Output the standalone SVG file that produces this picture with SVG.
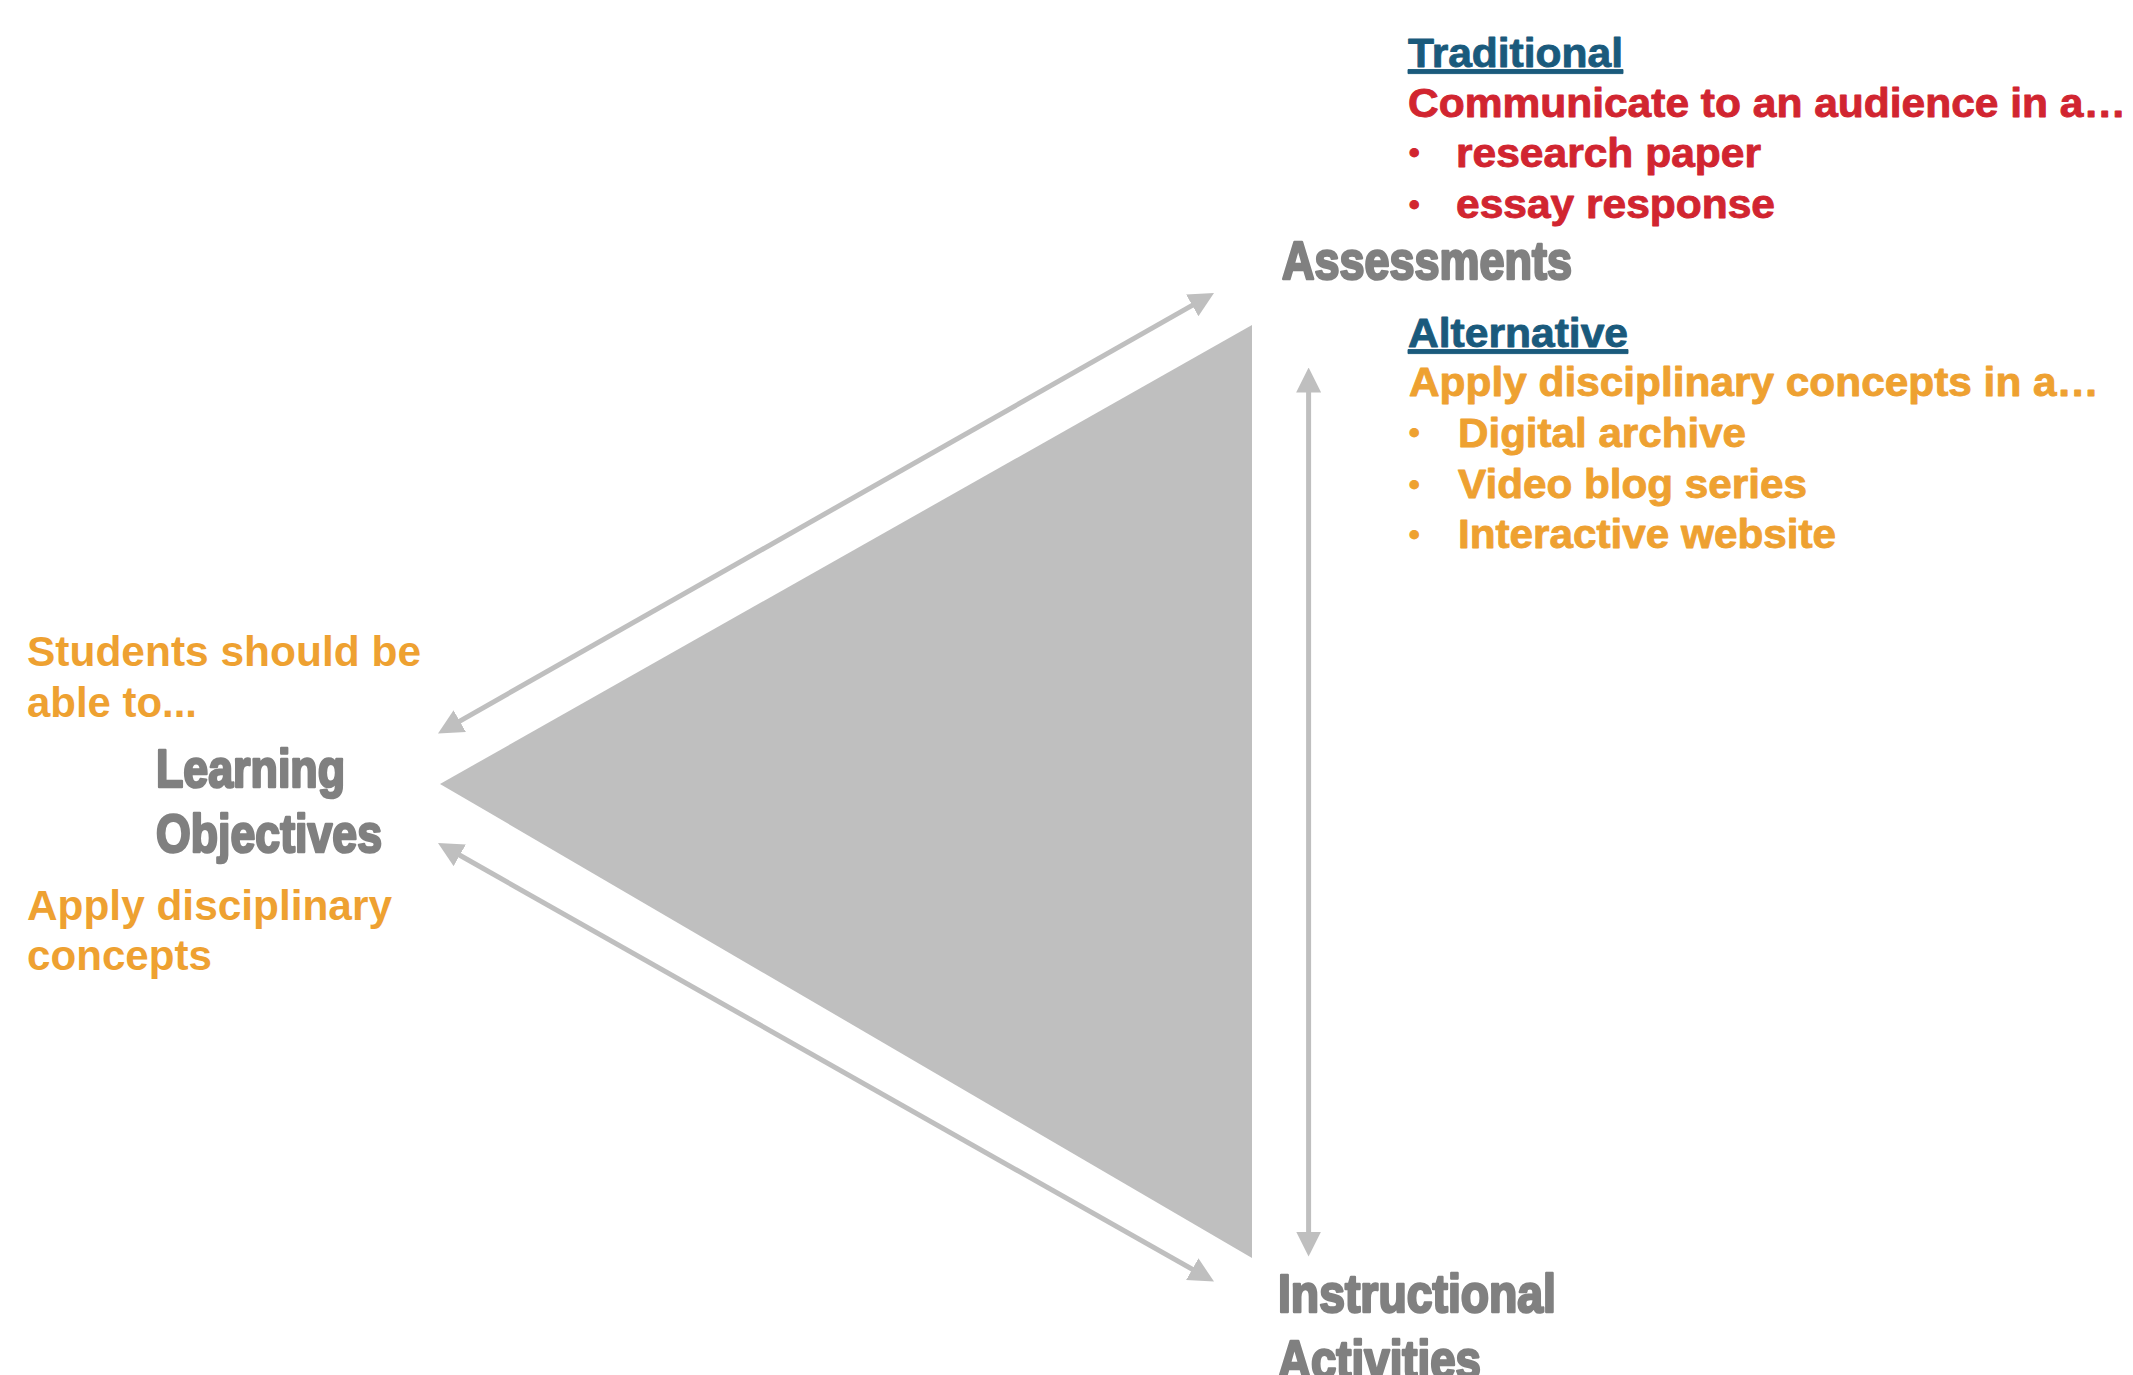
<svg xmlns="http://www.w3.org/2000/svg" width="2133" height="1375" viewBox="0 0 2133 1375">
  <style>
    .lbl { font-family: "Liberation Sans", Arial, sans-serif; font-weight: bold; font-size: 53px; fill: #808080; stroke: #808080; stroke-width: 2.6; stroke-linejoin: round; }
    .txt { font-family: "Liberation Sans", Arial, sans-serif; font-weight: bold; font-size: 41px; stroke-width: 0.9; stroke-linejoin: round; }
    .lft { font-family: "Liberation Sans", Arial, sans-serif; font-weight: bold; font-size: 42px; fill: #EEA131; }
    .bul { font-family: "Liberation Sans", Arial, sans-serif; font-weight: bold; font-size: 30px; }
    .red { fill: #D12530; stroke: #D12530; }
    .org { fill: #EEA131; stroke: #EEA131; }
    .blu { fill: #1A5A7C; stroke: #1A5A7C; text-decoration: underline; }
    .conn { stroke: #BFBFBF; stroke-width: 5; fill: none; marker-start: url(#head); marker-end: url(#head); }
  </style>
  <defs>
    <marker id="head" viewBox="0 0 25 25" refX="5" refY="12.5" markerWidth="25" markerHeight="25" markerUnits="userSpaceOnUse" orient="auto-start-reverse">
      <path d="M0,0 L25,12.5 L0,25 Z" fill="#BFBFBF"/>
    </marker>
  </defs>

  <rect width="2133" height="1375" fill="#FFFFFF"/>

  <!-- central triangle -->
  <g id="triangle">
    <polygon points="440,784 1252,325 1252,1258" fill="#BFBFBF"/>
  </g>

  <!-- two-way connectors between the three corners -->
  <g id="connectors">
    <line class="conn" x1="455.4" y1="723.6" x2="1196.6" y2="302.9"/>
    <line class="conn" x1="455.4" y1="852.8" x2="1196.6" y2="1271.7"/>
    <line class="conn" x1="1308.6" y1="387.5" x2="1308.6" y2="1236.6"/>
  </g>

  <!-- Assessments corner -->
  <g id="assessments">
    <text class="txt blu" x="1408" y="66.5" textLength="215" lengthAdjust="spacingAndGlyphs">Traditional</text>
    <text class="txt red" x="1408" y="116.5" textLength="718" lengthAdjust="spacingAndGlyphs">Communicate to an audience in a…</text>
    <text class="bul red" x="1409" y="163">•</text>
    <text class="txt red" x="1456" y="166.5" textLength="305" lengthAdjust="spacingAndGlyphs">research paper</text>
    <text class="bul red" x="1409" y="214.5">•</text>
    <text class="txt red" x="1456" y="218" textLength="319" lengthAdjust="spacingAndGlyphs">essay response</text>
    <text class="lbl" x="1282" y="279" textLength="290" lengthAdjust="spacingAndGlyphs">Assessments</text>
    <text class="txt blu" x="1408" y="346.5" textLength="220" lengthAdjust="spacingAndGlyphs">Alternative</text>
    <text class="txt org" x="1409" y="396" textLength="690" lengthAdjust="spacingAndGlyphs">Apply disciplinary concepts in a…</text>
    <text class="bul org" x="1409" y="443">•</text>
    <text class="txt org" x="1458" y="446.5" textLength="288" lengthAdjust="spacingAndGlyphs">Digital archive</text>
    <text class="bul org" x="1409" y="494.5">•</text>
    <text class="txt org" x="1458" y="498" textLength="349" lengthAdjust="spacingAndGlyphs">Video blog series</text>
    <text class="bul org" x="1409" y="544.5">•</text>
    <text class="txt org" x="1458" y="548" textLength="378" lengthAdjust="spacingAndGlyphs">Interactive website</text>
  </g>

  <!-- Learning Objectives corner -->
  <g id="learning-objectives">
    <text class="lft" x="27" y="665.5" textLength="394" lengthAdjust="spacingAndGlyphs">Students should be</text>
    <text class="lft" x="27" y="716.5" textLength="170" lengthAdjust="spacingAndGlyphs">able to...</text>
    <text class="lbl" x="156" y="787" textLength="189" lengthAdjust="spacingAndGlyphs">Learning</text>
    <text class="lbl" x="156" y="852" textLength="226" lengthAdjust="spacingAndGlyphs">Objectives</text>
    <text class="lft" x="27" y="920" textLength="365" lengthAdjust="spacingAndGlyphs">Apply disciplinary</text>
    <text class="lft" x="27" y="970" textLength="185" lengthAdjust="spacingAndGlyphs">concepts</text>
  </g>

  <!-- Instructional Activities corner -->
  <g id="instructional-activities">
    <text class="lbl" x="1278" y="1312" textLength="278" lengthAdjust="spacingAndGlyphs">Instructional</text>
    <text class="lbl" x="1278" y="1378" textLength="203" lengthAdjust="spacingAndGlyphs">Activities</text>
  </g>
</svg>
